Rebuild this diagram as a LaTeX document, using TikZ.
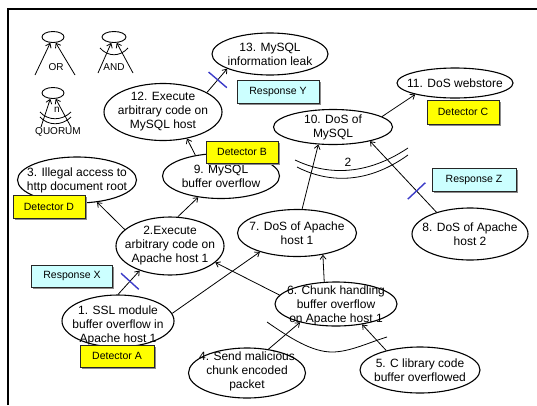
\documentclass[tikz,border=0pt]{standalone}
\usepackage{fontspec}
\setmainfont{Liberation Sans}
\usetikzlibrary{arrows.meta,shapes.geometric,shadows}
\definecolor{tickblue}{RGB}{60,60,200}
\definecolor{lcyan}{RGB}{204,255,255}
\definecolor{dyellow}{RGB}{255,255,0}
\begin{document}
\begin{tikzpicture}[x=1pt,y=-1pt,
  ev/.style={ellipse,draw,line width=1.1pt,fill=white,inner sep=0pt},
  lbl/.style={align=center,font=\fontsize{12}{14}\selectfont,inner sep=0pt},
  leg/.style={font=\fontsize{10}{12}\selectfont,inner sep=0pt},
  boxy/.style={draw=black!85,line width=0.8pt,fill=dyellow,minimum width=72pt,minimum height=22pt,inner sep=0pt,font=\fontsize{10.5}{12}\selectfont,drop shadow={shadow xshift=1.5pt,shadow yshift=-1.5pt,fill=black!45,opacity=1}},
  boxc/.style={boxy,fill=lcyan},
  arr/.style={line width=0.8pt,-{Straight Barb[length=4pt,width=6pt]}},
  tickmark/.style={draw=tickblue,line width=1.4pt,minimum height=24pt,minimum width=0pt,inner sep=0pt},
  plain/.style={line width=0.8pt}
  ]
\useasboundingbox (0,0) rectangle (537,405);
% frame
\draw[line width=1.6pt] (8,405) -- (8,9) -- (540,9);

% legend
\node[ev,line width=0.9pt,minimum width=22pt,minimum height=11pt] (lor) at (53,37) {};
\coordinate (lora) at (35,75); \coordinate (lorb) at (75,75);
\draw[arr] (lora) -- (lor.245);
\draw[arr] (lorb) -- (lor.295);
\node[leg] (tor) at (56,67) {OR};

\node[ev,line width=0.9pt,minimum width=24pt,minimum height=11pt] (land) at (114,37) {};
\coordinate (landa) at (98,73); \coordinate (landb) at (133,73);
\draw[arr] (landa) -- (land.245);
\draw[arr] (landb) -- (land.295);
\draw[plain] (100,48) .. controls (108,57) and (120,57) .. (128,48);
\node[leg] (tand) at (114,67) {AND};

\node[ev,line width=0.9pt,minimum width=22pt,minimum height=11pt] (lq) at (53,93) {};
\coordinate (lqa) at (41,127); \coordinate (lqb) at (71,127);
\draw[arr] (lqa) -- (lq.245);
\draw[arr] (lqb) -- (lq.295);
\draw[plain] (40,112) .. controls (48,121) and (62,121) .. (71,112);
\draw[plain] (40,117) .. controls (48,126) and (62,126) .. (71,117);
\node[leg] (tn) at (57,110) {n};
\node[leg] (tq) at (58,132) {QUORUM};

% quorum arcs (main)
\draw[plain] (295,160) .. controls (320,172) and (360,180) .. (408,148);
\draw[plain] (297,167) .. controls (322,180) and (362,188) .. (408,155);
\node[lbl] (q2) at (348,162) {2};

% AND arc (main)
\draw[plain] (267,322) .. controls (290,338) and (312,352) .. (332,352) .. controls (350,352) and (370,342) .. (387,337);

% ellipses
\node[ev,minimum width=116pt,minimum height=42pt] (n13) at (270,54) {};
\node[lbl] at (n13) {13. MySQL\\information leak};
\node[ev,minimum width=118pt,minimum height=57pt] (n12) at (163,112) {};
\node[lbl] at (n12) {12. Execute\\arbitrary code on\\MySQL host};
\node[ev,minimum width=117pt,minimum height=45pt] (n9) at (221,176) {};
\node[lbl] at (n9) {9. MySQL\\buffer overflow};
\node[ev,minimum width=119pt,minimum height=46pt] (n3) at (77,180) {};
\node[lbl] at (n3) {3. Illegal access to\\http document root};
\node[ev,minimum width=108pt,minimum height=58pt] (n2) at (170,246) {};
\node[lbl] at (n2) {2.Execute\\arbitrary code on\\Apache host 1};
\node[ev,minimum width=119pt,minimum height=35pt] (n10) at (333,127) {};
\node[lbl] at (n10) {10. DoS of\\MySQL};
\node[ev,minimum width=116pt,minimum height=30pt] (n11) at (455,83) {};
\node[lbl] at (n11) {11. DoS webstore};
\node[ev,minimum width=119pt,minimum height=47pt] (n7) at (297,233) {};
\node[lbl] at (n7) {7. DoS of Apache\\host 1};
\node[ev,minimum width=116pt,minimum height=52pt] (n8) at (470,234) {};
\node[lbl] at (n8) {8. DoS of Apache\\host 2};
\node[ev,minimum width=112pt,minimum height=52pt] (n1) at (118,321) {};
\node[lbl] at (118,325) {1. SSL module\\buffer overflow in\\Apache host 1};
\node[ev,minimum width=122pt,minimum height=44pt] (n6) at (336,304) {};
\node[lbl] at (336,305) {6. Chunk handling\\buffer overflow\\on Apache host 1};
\node[ev,minimum width=117pt,minimum height=50pt] (n4) at (247,373) {};
\node[lbl] at (247,371) {4. Send malicious\\chunk encoded\\packet};
\node[ev,minimum width=120pt,minimum height=46pt] (n5) at (420,370) {};
\node[lbl] at (n5) {5. C library code\\buffer overflowed};

% arrows
\draw[arr] (n12.24) -- node[tickmark,sloped,pos=.53]{} (n13.199);
\draw[arr] (n9.141) -- (n12.312);
\draw[arr] (n2.160) -- (n3.312);
\draw[arr] (n2.75) -- (n9.223);
\draw[arr] (n1.90) -- node[tickmark,sloped,pos=.55]{} (n2.219);
\draw[arr] (n1.8) -- (n7.207);
\draw[arr] (n6.171) -- (n2.340);
\draw[arr] (n6.118) -- (n7.320);
\draw[arr] (n4.48) -- (n6.207);
\draw[arr] (n5.150) -- (n6.322);
\draw[arr] (n7.78) -- (n10.230);
\draw[arr] (n8.147) -- node[tickmark,sloped,pos=.30]{} (n10.339);
\draw[arr] (n10.12) -- (n11.196);

% boxes
\node[boxc,minimum width=82pt,minimum height=23pt] (ry) at (278,92) {Response Y};
\node[boxy] (db) at (242,152) {Detector B};
\node[boxy,minimum height=23pt] (dd) at (49,207) {Detector D};
\node[boxc,minimum width=81pt] (rx) at (72,276) {Response X};
\node[boxy,minimum width=74pt] (da) at (117,356) {Detector A};
\node[boxy,minimum height=24pt] (dc) at (463,112) {Detector C};
\node[boxc,minimum width=84pt,minimum height=23pt] (rz) at (474,180) {Response Z};
\end{tikzpicture}
\end{document}
